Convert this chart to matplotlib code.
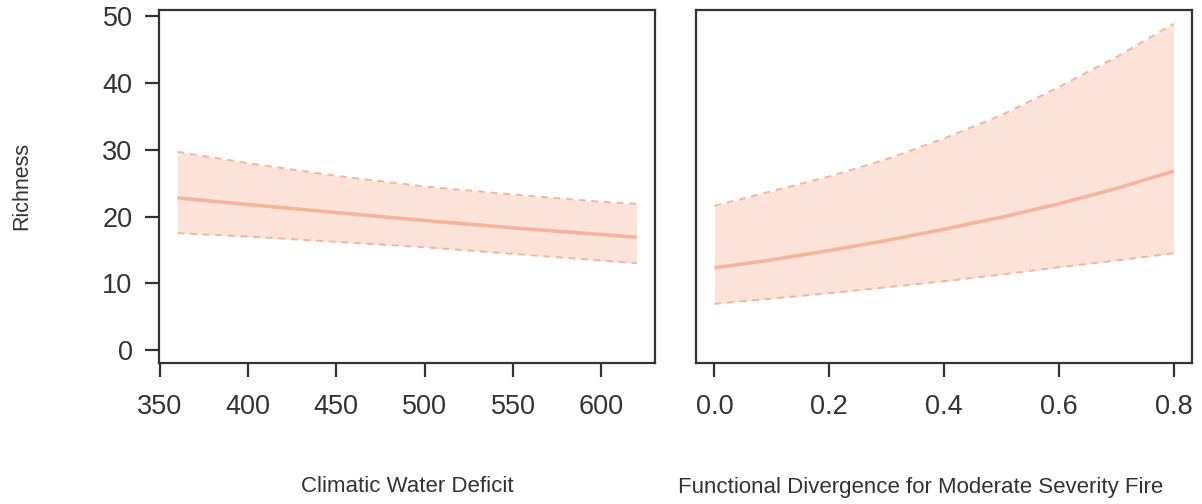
import numpy as np
import matplotlib.pyplot as plt

plt.rcParams['font.family'] = ['Liberation Sans', 'DejaVu Sans']

# Predicted richness vs climatic water deficit
cwd = [360, 400, 450, 500, 550, 600, 620]
cwd_fit = [22.8, 21.8, 20.6, 19.4, 18.3, 17.3, 16.9]
cwd_upper = [29.7, 28.0, 26.1, 24.5, 23.3, 22.2, 21.9]
cwd_lower = [17.5, 17.0, 16.2, 15.4, 14.4, 13.4, 13.0]

# Predicted richness vs functional divergence (moderate severity fire)
fdiv = [0.0, 0.1, 0.2, 0.3, 0.4, 0.5, 0.6, 0.7, 0.8]
fdiv_fit = [12.3, 13.5, 14.9, 16.4, 18.1, 19.9, 21.9, 24.2, 26.8]
fdiv_upper = [21.6, 23.8, 26.0, 28.6, 31.7, 35.2, 39.4, 43.9, 48.9]
fdiv_lower = [6.9, 7.7, 8.5, 9.4, 10.3, 11.3, 12.4, 13.4, 14.5]

cwd_ticks = [350, 400, 450, 500, 550, 600]
fdiv_ticks = [0.0, 0.2, 0.4, 0.6, 0.8]
rich_ticks = [0, 10, 20, 30, 40, 50]

band_col = '#fbe3da'
line_col = '#f6b59b'
ink = '#333333'

fig = plt.figure(figsize=(12.02, 5.04), dpi=100)
ax1 = fig.add_axes([159 / 1202, 141 / 504, 496 / 1202, 353 / 504])
ax2 = fig.add_axes([696 / 1202, 141 / 504, 496 / 1202, 353 / 504])


def draw_panel(ax, x, fit, lo, hi):
    ax.fill_between(x, lo, hi, color=band_col, lw=0, zorder=1)
    ax.plot(x, fit, color=line_col, lw=2.6, solid_capstyle='butt', zorder=3)
    for b in (lo, hi):
        ax.plot(x, b, color=line_col, lw=1.4, dashes=(3.5, 3), zorder=2)
    for s in ax.spines.values():
        s.set_color(ink)
        s.set_linewidth(1.6)
    ax.tick_params(axis='both', colors=ink, labelsize=19.5, length=10,
                   width=1.6, labelcolor=ink)
    ax.tick_params(axis='x', pad=12)
    ax.tick_params(axis='y', pad=9)
    # R-style 4% padding around the data range
    ax.set_ylim(-0.04 * 49, 49 * 1.04)


draw_panel(ax1, cwd, cwd_fit, cwd_lower, cwd_upper)
span = 620 - 360
ax1.set_xlim(360 - 0.04 * span, 620 + 0.04 * span)
ax1.set_xticks(cwd_ticks)
ax1.set_yticks(rich_ticks)

draw_panel(ax2, fdiv, fdiv_fit, fdiv_lower, fdiv_upper)
ax2.set_xlim(-0.04 * 0.8, 0.8 * 1.04)
ax2.set_xticks(fdiv_ticks)
ax2.set_xticklabels([f'{t:.1f}' for t in fdiv_ticks])
ax2.set_yticks([])

fig.text(407 / 1202, 1 - 487 / 504, 'Climatic Water Deficit', ha='center',
         va='center', fontsize=16, color=ink)
fig.text(921 / 1202, 1 - 487 / 504, 'Functional Divergence for Moderate Severity Fire',
         ha='center', va='center', fontsize=16, color=ink)
fig.text(22 / 1202, 1 - 186 / 504, 'Richness', rotation=90, ha='center',
         va='center', fontsize=15.5, color=ink)

fig.savefig('out.png', dpi=100)
